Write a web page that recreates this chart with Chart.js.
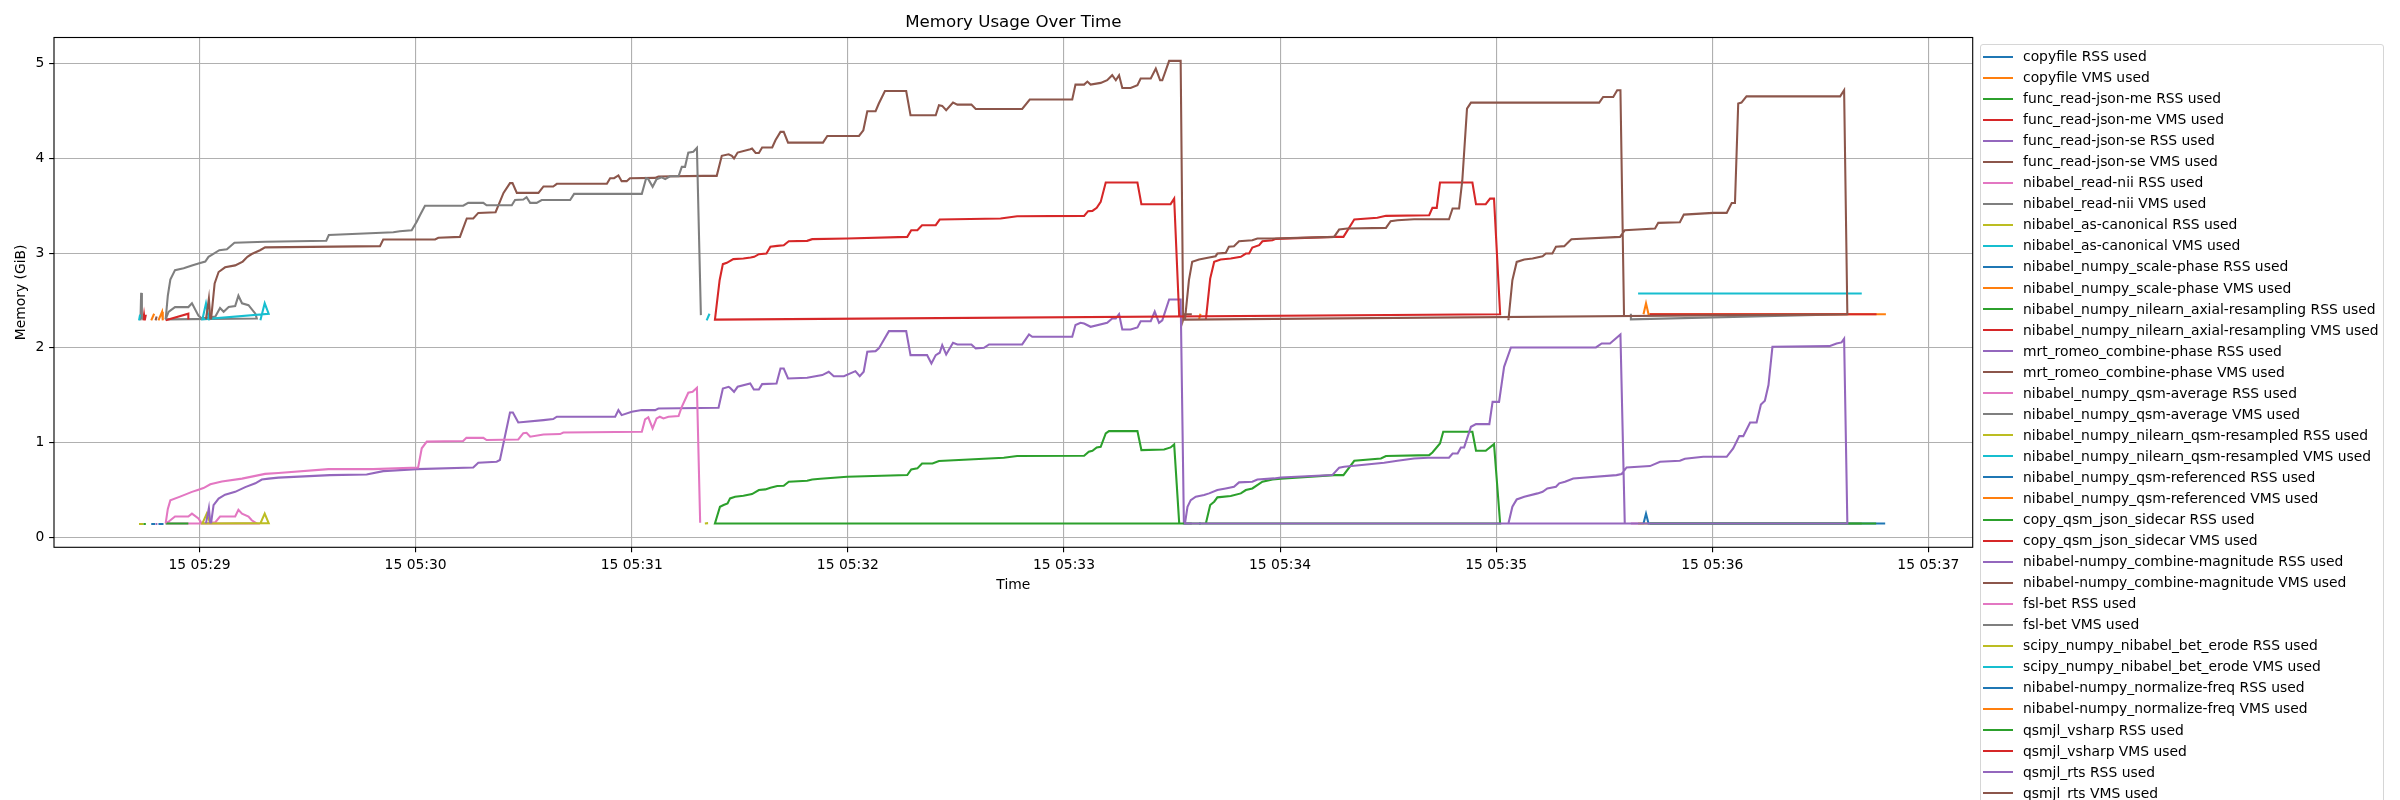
<!DOCTYPE html>
<html>
<head>
<meta charset="utf-8">
<title>Memory Usage Over Time</title>
<script src="https://cdn.jsdelivr.net/npm/chart.js@4.4.1/dist/chart.umd.min.js"></script>
<style>
  html, body { margin: 0; padding: 0; background: #fff; width: 2400px; height: 800px; overflow: hidden; }
  #wrap { position: relative; width: 2400px; height: 800px; }
  #memChart { position: absolute; left: 0; top: 0; }
  #legend {
    position: absolute; left: 1980px; top: 44px; width: 404px; height: 780px;
    border: 1.1px solid #d6d6d6; border-radius: 3px; background: rgba(255,255,255,0.8);
    font-family: 'DejaVu Sans', sans-serif; font-size: 13.89px; color: #000;
    padding-top: 1px; box-sizing: border-box;
  }
  .row { position: relative; height: 21.06px; line-height: 21.06px; white-space: nowrap; }
  .row span.swatch { position: absolute; left: 2px; top: 9.5px; width: 30px; height: 2px; }
  .row span.txt { position: absolute; left: 42px; top: 0; }
</style>
</head>
<body>
<div id="wrap">
  <canvas id="memChart" width="2400" height="800"></canvas>
  <div id="legend"></div>
</div>
<script>
// time = seconds after 05:28:00, memory in GiB
const xTickSeconds = [60, 120, 180, 240, 300, 360, 420, 480, 540];
const xTickLabels = ['15 05:29', '15 05:30', '15 05:31', '15 05:32', '15 05:33', '15 05:34', '15 05:35', '15 05:36', '15 05:37'];
const yTickValues = [0, 1, 2, 3, 4, 5];

const seriesLabels = [
  'copyfile RSS used', 'copyfile VMS used',
  'func_read-json-me RSS used', 'func_read-json-me VMS used',
  'func_read-json-se RSS used', 'func_read-json-se VMS used',
  'nibabel_read-nii RSS used', 'nibabel_read-nii VMS used',
  'nibabel_as-canonical RSS used', 'nibabel_as-canonical VMS used',
  'nibabel_numpy_scale-phase RSS used', 'nibabel_numpy_scale-phase VMS used',
  'nibabel_numpy_nilearn_axial-resampling RSS used', 'nibabel_numpy_nilearn_axial-resampling VMS used',
  'mrt_romeo_combine-phase RSS used', 'mrt_romeo_combine-phase VMS used',
  'nibabel_numpy_qsm-average RSS used', 'nibabel_numpy_qsm-average VMS used',
  'nibabel_numpy_nilearn_qsm-resampled RSS used', 'nibabel_numpy_nilearn_qsm-resampled VMS used',
  'nibabel_numpy_qsm-referenced RSS used', 'nibabel_numpy_qsm-referenced VMS used',
  'copy_qsm_json_sidecar RSS used', 'copy_qsm_json_sidecar VMS used',
  'nibabel-numpy_combine-magnitude RSS used', 'nibabel-numpy_combine-magnitude VMS used',
  'fsl-bet RSS used', 'fsl-bet VMS used',
  'scipy_numpy_nibabel_bet_erode RSS used', 'scipy_numpy_nibabel_bet_erode VMS used',
  'nibabel-numpy_normalize-freq RSS used', 'nibabel-numpy_normalize-freq VMS used',
  'qsmjl_vsharp RSS used', 'qsmjl_vsharp VMS used',
  'qsmjl_rts RSS used', 'qsmjl_rts VMS used'
];

// [time, GiB] pairs, null = no sample
const copyfileRss = [[46.6, 0.14], [47.7, 0.14]];
const copyfileVms = [[46.6, 2.29], [47.4, 2.36]];
const readJsonMeRss = [[44.4, 0.14], [45.1, 0.14]];
const readJsonMeVms = [[44.4, 2.29], [44.6, 2.35], [44.8, 2.29], [45.1, 2.35]];
const readJsonSeRss = [[47.8, 0.14], [48.3, 0.14]];
const readJsonSeVms = [[47.8, 2.29], [48.1, 2.33]];
const readNiiRss = [[43.6, 0.14], [44.0, 0.14], [47, null], [50.6, 0.147], [51.4, 0.165], [53.2, 0.22], [56.9, 0.22], [57.9, 0.25],
  [59.7, 0.20], [60.6, 0.147], [64.4, 0.16], [65.7, 0.22], [67.1, 0.22], [69.9, 0.22], [70.8, 0.29], [71.8, 0.25], [73.6, 0.22],
  [74.5, 0.18], [75.9, 0.147], [50.6, 0.147]];
const readNiiVms = [[43.6, 2.29], [43.8, 2.58], [44.0, 2.30], [47, null], [50.6, 2.30], [51.4, 2.38], [53.2, 2.43], [56.9, 2.43],
  [57.9, 2.47], [59.7, 2.34], [60.6, 2.31], [64.4, 2.33], [65.7, 2.42], [66.7, 2.38], [68.1, 2.43], [69.9, 2.44], [70.8, 2.55],
  [71.8, 2.47], [73.6, 2.45], [75.5, 2.36], [75.9, 2.31], [50.6, 2.30]];
const asCanonicalRss = [[43.2, 0.14], [44.4, 0.14], [52, null], [76.9, 0.147], [78.1, 0.25], [79.2, 0.15], [60.8, 0.147], [62.0, 0.25], [63.0, 0.147]];
const asCanonicalVms = [[43.2, 2.29], [43.5, 2.35], [52, null], [76.9, 2.29], [78.1, 2.47], [79.2, 2.36], [60.8, 2.30], [61.8, 2.47], [62.7, 2.29]];
const scalePhaseRss = [[48.6, 0.14], [50.0, 0.14]];
const scalePhaseVms = [[48.6, 2.29], [49.6, 2.38], [49.8, 2.29]];
const axialRss = [[50.6, 0.147], [56.9, 0.147]];
const axialVms = [[50.6, 2.29], [56.9, 2.36], [56.9, 2.30]];

const romeoRss = [[63.2, 0.147], [63.9, 0.34], [65.3, 0.41], [67.1, 0.45], [69.9, 0.48], [72.7, 0.53], [75.5, 0.57], [77.3, 0.61],
  [79.2, 0.62], [81.9, 0.63], [96.2, 0.657], [106.4, 0.664], [111.0, 0.699], [120.3, 0.72], [136.0, 0.738], [137.4, 0.787],
  [142.5, 0.798], [143.4, 0.816], [146.2, 1.318], [147.0, 1.318], [148.5, 1.212], [155.5, 1.237], [158.2, 1.248], [159.2, 1.273],
  [175.4, 1.273], [176.3, 1.343], [177.2, 1.290], [180.0, 1.325], [182.8, 1.343], [186.5, 1.343], [187.4, 1.36], [204.1, 1.367],
  [205.3, 1.571], [206.9, 1.589], [207.3, 1.578], [208.4, 1.536], [209.4, 1.589], [212.9, 1.623], [213.9, 1.561], [215.3, 1.561],
  [216.2, 1.617], [220.2, 1.624], [221.3, 1.782], [222.2, 1.782], [223.4, 1.677], [228.7, 1.684], [232.9, 1.712], [234.7, 1.747],
  [236.1, 1.701], [238.9, 1.701], [242.1, 1.754], [243.3, 1.701], [244.4, 1.747], [245.4, 1.958], [247.7, 1.965], [248.6, 1.994],
  [251.4, 2.176], [256.2, 2.176], [257.4, 1.923], [262.0, 1.923], [263.2, 1.835], [264.4, 1.923], [265.5, 1.948], [266.2, 2.028],
  [267.3, 1.930], [269.2, 2.053], [270.4, 2.036], [274.3, 2.036], [275.5, 1.994], [277.8, 2.000], [279.2, 2.036], [288.4, 2.036],
  [290.3, 2.141], [291.2, 2.117], [302.3, 2.117], [303.2, 2.240], [304.6, 2.264], [305.6, 2.257], [307.4, 2.222], [312.0, 2.264],
  [313.4, 2.310], [314.4, 2.310], [315.3, 2.355], [316.2, 2.193], [318.5, 2.193], [320.4, 2.215], [321.3, 2.281], [324.1, 2.281],
  [325.2, 2.383], [326.4, 2.264], [327.3, 2.29], [329.2, 2.51], [332.4, 2.51], [333.3, 0.147], [335.5, 0.147]];
const romeoVms = [[63.2, 2.30], [63.6, 2.45], [64.2, 2.68], [65.3, 2.80], [67.1, 2.85], [69.9, 2.87], [72.0, 2.91], [73.3, 2.96],
  [74.5, 2.99], [76.8, 3.03], [78.2, 3.06], [110.1, 3.073], [111.0, 3.143], [125.4, 3.143], [126.3, 3.161], [132.3, 3.171],
  [134.2, 3.365], [136.0, 3.365], [137.4, 3.424], [142.2, 3.431], [144.4, 3.635], [146.2, 3.738], [146.9, 3.738], [148.1, 3.635],
  [154.1, 3.635], [155.5, 3.703], [158.2, 3.703], [159.2, 3.731], [173.1, 3.731], [174.0, 3.790], [175.1, 3.790], [176.3, 3.819],
  [177.2, 3.759], [178.6, 3.759], [179.5, 3.790], [186.5, 3.794], [187.4, 3.808], [199.9, 3.815], [203.6, 3.815], [205.0, 4.026],
  [206.9, 4.043], [207.8, 4.026], [208.4, 3.998], [209.4, 4.061], [212.9, 4.096], [213.4, 4.103], [214.4, 4.057], [215.3, 4.057],
  [216.2, 4.114], [219.0, 4.114], [219.9, 4.191], [221.3, 4.279], [222.2, 4.279], [223.4, 4.166], [233.1, 4.166], [234.3, 4.236],
  [243.1, 4.236], [244.3, 4.296], [245.4, 4.497], [247.7, 4.497], [248.6, 4.578], [250.3, 4.711], [256.2, 4.711], [257.4, 4.454],
  [264.4, 4.454], [265.3, 4.560], [266.2, 4.553], [267.3, 4.507], [269.2, 4.588], [270.4, 4.567], [274.3, 4.567], [275.5, 4.521],
  [288.4, 4.521], [290.5, 4.620], [302.3, 4.620], [303.2, 4.778], [305.6, 4.778], [306.5, 4.810], [307.4, 4.778], [310.2, 4.796],
  [312.0, 4.824], [313.4, 4.877], [314.4, 4.824], [315.3, 4.877], [316.2, 4.743], [318.5, 4.743], [320.4, 4.771], [321.3, 4.842],
  [324.1, 4.842], [325.5, 4.947], [326.7, 4.824], [327.3, 4.824], [329.2, 5.028], [332.4, 5.028], [333.1, 2.30], [333.5, 2.355],
  [335.5, 2.355]];

const qsmAverageRss = [[457.4, 0.147], [461.0, 0.147]];
const qsmAverageVms = [[457.4, 2.36], [457.4, 2.30], [517.5, 2.355]];
const qsmResampledRss = [[459.4, 0.147], [521.5, 0.147]];
const qsmResampledVms = [[459.4, 2.573], [521.5, 2.573]];
const qsmReferencedRss = [[460.9, 0.147], [461.6, 0.25], [462.3, 0.147], [528.0, 0.147]];
const qsmReferencedVms = [[460.9, 2.355], [461.6, 2.47], [462.3, 2.355], [528.2, 2.355]];
const sidecarRss = [[462.7, 0.147], [525.5, 0.147]];
const sidecarVms = [[462.7, 2.355], [525.6, 2.355]];
const combineMagRss = [[61.8, 0.147], [62.6, 0.31], [63.0, 0.147]];
const combineMagVms = [[61.8, 2.30], [62.6, 2.52], [63.0, 2.30]];

const fslBetRss = [[50.6, 0.147], [51.2, 0.30], [51.9, 0.39], [54.6, 0.43], [57.9, 0.48], [59.5, 0.50], [61.1, 0.52], [63.0, 0.56],
  [66.2, 0.59], [71.8, 0.62], [78.2, 0.67], [81.9, 0.68], [95.8, 0.72], [108.2, 0.72], [120.7, 0.738], [121.7, 0.94], [123.1, 1.01],
  [133.2, 1.016], [134.1, 1.05], [138.8, 1.05], [139.7, 1.027], [148.5, 1.033], [149.9, 1.10], [150.8, 1.104], [151.8, 1.062],
  [155.5, 1.086], [160.1, 1.09], [161.0, 1.107], [182.8, 1.114], [183.7, 1.245], [184.6, 1.266], [185.8, 1.15], [186.9, 1.255],
  [187.8, 1.273], [188.8, 1.255], [190.2, 1.273], [193.0, 1.28], [193.9, 1.378], [195.7, 1.526], [196.9, 1.536], [198.1, 1.578],
  [199.0, 0.154]];
const fslBetVms = [[50.6, 2.30], [51.2, 2.55], [51.9, 2.72], [53.2, 2.82], [55.6, 2.84], [57.9, 2.87], [59.7, 2.89], [61.6, 2.91],
  [62.5, 2.96], [63.4, 2.98], [65.5, 3.03], [67.6, 3.04], [69.7, 3.11], [78.2, 3.12], [95.2, 3.13], [95.9, 3.19], [107.3, 3.21],
  [113.8, 3.22], [115.6, 3.23], [118.9, 3.24], [120.3, 3.33], [121.2, 3.40], [122.6, 3.50], [133.2, 3.50], [134.6, 3.53],
  [138.8, 3.53], [139.7, 3.505], [146.7, 3.505], [147.6, 3.56], [149.9, 3.565], [150.8, 3.59], [151.8, 3.53], [153.6, 3.53],
  [155.0, 3.56], [162.9, 3.56], [164.0, 3.625], [182.8, 3.625], [184.0, 3.79], [184.6, 3.78], [185.8, 3.70], [186.9, 3.78],
  [188.3, 3.80], [189.3, 3.78], [190.6, 3.81], [193.0, 3.81], [193.9, 3.91], [194.8, 3.91], [195.7, 4.06], [197.1, 4.07],
  [198.1, 4.11], [199.2, 2.345]];

const betErodeRss = [[200.3, 0.147], [201.2, 0.15]];
const betErodeVms = [[200.8, 2.29], [201.6, 2.36]];
const normalizeRss = [[337.5, 0.147], [338.0, 0.147]];
const normalizeVms = [[337.5, 2.30], [337.9, 2.36]];

const vsharpRun1Rss = [[203.1, 0.147], [204.5, 0.323], [205.5, 0.341], [206.6, 0.358], [207.3, 0.411], [208.7, 0.429], [211.0, 0.439],
  [213.4, 0.457], [215.3, 0.499], [217.1, 0.506], [218.5, 0.524], [220.4, 0.541], [222.2, 0.545], [223.6, 0.587], [228.7, 0.597],
  [230.1, 0.611], [232.4, 0.618], [239.8, 0.640], [256.5, 0.657], [257.6, 0.717], [259.3, 0.728], [260.6, 0.780], [263.5, 0.780],
  [265.3, 0.805], [283.3, 0.840], [287.0, 0.858], [305.6, 0.861], [306.9, 0.903], [307.9, 0.914], [309.1, 0.949], [310.2, 0.956],
  [311.6, 1.097], [312.5, 1.121], [320.4, 1.121], [321.5, 0.921], [327.8, 0.928], [329.6, 0.949], [330.6, 0.981], [332.0, 0.147]];
const vsharpRun1Vms = [[203.1, 2.298], [204.4, 2.714], [205.3, 2.883], [206.4, 2.897], [208.2, 2.936], [211.0, 2.943], [213.0, 2.953],
  [214.0, 2.960], [215.3, 2.988], [217.4, 2.995], [218.5, 3.066], [220.4, 3.076], [222.2, 3.083], [223.6, 3.125], [228.7, 3.129],
  [230.1, 3.147], [239.8, 3.154], [256.5, 3.171], [257.6, 3.241], [259.3, 3.241], [260.6, 3.294], [264.4, 3.294], [265.5, 3.354],
  [282.4, 3.365], [287.0, 3.389], [305.6, 3.393], [306.7, 3.442], [307.9, 3.445], [309.1, 3.477], [310.2, 3.540], [311.6, 3.744],
  [320.4, 3.744], [321.5, 3.516], [329.6, 3.516], [330.6, 3.575], [332.0, 2.334]];
const vsharpRun2Rss = [[339.4, 0.147], [340.6, 0.341], [341.7, 0.376], [342.6, 0.422], [346.3, 0.436], [349.1, 0.464], [350.5, 0.499],
  [352.3, 0.516], [355.1, 0.587], [357.9, 0.611], [360.2, 0.618], [375.0, 0.657], [377.6, 0.657], [380.6, 0.808], [388.0, 0.833],
  [389.4, 0.858], [401.4, 0.868], [402.3, 0.896], [404.4, 0.991], [405.3, 1.114], [413.4, 1.114], [414.4, 0.914], [417.1, 0.914],
  [419.4, 0.984], [421.1, 0.147]];
const vsharpRun2Vms = [[339.4, 2.298], [340.6, 2.731], [341.7, 2.907], [343.5, 2.932], [346.3, 2.943], [349.1, 2.960], [350.5, 2.995],
  [351.4, 2.995], [352.3, 3.059], [354.2, 3.083], [355.1, 3.125], [357.9, 3.136], [358.8, 3.150], [375.0, 3.171], [377.6, 3.171],
  [380.6, 3.354], [387.0, 3.372], [389.4, 3.393], [401.4, 3.400], [402.3, 3.477], [403.5, 3.477], [404.4, 3.744], [413.4, 3.744],
  [414.4, 3.516], [417.1, 3.516], [418.3, 3.575], [419.4, 3.575], [421.1, 2.355]];

const rtsRun2Rss = [[333.6, 0.147], [334.3, 0.323], [335.2, 0.393], [336.6, 0.429], [338.9, 0.446], [340.3, 0.464], [342.6, 0.499],
  [344.9, 0.516], [347.2, 0.534], [348.6, 0.580], [352.3, 0.587], [353.7, 0.611], [358.3, 0.622], [360.2, 0.632], [374.5, 0.657],
  [376.4, 0.734], [377.8, 0.745], [388.9, 0.787], [392.6, 0.808], [397.2, 0.833], [401.1, 0.840], [406.9, 0.840], [407.9, 0.885],
  [409.3, 0.885], [410.2, 0.949], [411.1, 0.949], [413.0, 1.167], [414.4, 1.195], [418.1, 1.195], [419.0, 1.430], [420.8, 1.430],
  [422.2, 1.800], [424.1, 2.004], [447.7, 2.004], [449.3, 2.046], [451.6, 2.046], [454.5, 2.141], [455.7, 0.147]];
const rtsRun2Vms = [[333.6, 2.298], [334.7, 2.714], [335.6, 2.907], [337.5, 2.932], [338.9, 2.943], [340.3, 2.953], [342.1, 2.967],
  [342.6, 2.995], [344.9, 3.002], [345.8, 3.066], [347.2, 3.073], [348.6, 3.125], [352.3, 3.136], [353.7, 3.154], [357.9, 3.154],
  [375.0, 3.171], [376.4, 3.248], [378.7, 3.259], [389.4, 3.266], [390.7, 3.337], [392.6, 3.347], [397.2, 3.357], [406.9, 3.357],
  [407.9, 3.470], [409.7, 3.470], [410.6, 3.769], [411.9, 4.525], [413.0, 4.588], [448.6, 4.588], [449.7, 4.648], [452.5, 4.648],
  [453.6, 4.719], [454.5, 4.719], [455.5, 2.33]];
const rtsRun3Rss = [[423.4, 0.147], [424.5, 0.323], [425.7, 0.400], [427.8, 0.429], [431.5, 0.464], [432.9, 0.48], [434.2, 0.516],
  [436.6, 0.534], [437.5, 0.570], [439.1, 0.587], [441.4, 0.622], [453.4, 0.657], [454.8, 0.668], [456.2, 0.738], [462.7, 0.752],
  [465.5, 0.798], [471.0, 0.808], [472.4, 0.829], [477.5, 0.850], [484.0, 0.850], [485.8, 0.938], [487.5, 1.068], [488.6, 1.068],
  [490.5, 1.212], [492.3, 1.212], [493.5, 1.402], [494.6, 1.441], [495.6, 1.607], [496.7, 2.011], [512.5, 2.018], [514.5, 2.046],
  [515.9, 2.057], [516.6, 2.096], [517.5, 0.147]];
const rtsRun3Vms = [[423.4, 2.291], [424.5, 2.714], [425.7, 2.907], [427.8, 2.932], [430.1, 2.943], [432.9, 2.967], [433.8, 2.995],
  [435.6, 2.995], [436.6, 3.066], [438.9, 3.073], [440.3, 3.125], [440.9, 3.147], [454.4, 3.171], [455.7, 3.241], [464.1, 3.259],
  [465.0, 3.319], [471.0, 3.326], [472.1, 3.406], [480.3, 3.424], [484.0, 3.424], [485.4, 3.529], [486.3, 3.529], [487.2, 4.578],
  [488.1, 4.588], [489.5, 4.654], [515.5, 4.654], [516.6, 4.719], [517.5, 2.355]];

// samples of repeated runs are listed run after run, as in the log
const seriesData = [
  copyfileRss, copyfileVms, readJsonMeRss, readJsonMeVms, readJsonSeRss, readJsonSeVms,
  readNiiRss, readNiiVms, asCanonicalRss, asCanonicalVms, scalePhaseRss, scalePhaseVms,
  axialRss, axialVms, romeoRss, romeoVms, qsmAverageRss, qsmAverageVms,
  qsmResampledRss, qsmResampledVms, qsmReferencedRss, qsmReferencedVms, sidecarRss, sidecarVms,
  combineMagRss, combineMagVms, fslBetRss, fslBetVms, betErodeRss, betErodeVms,
  normalizeRss, normalizeVms,
  vsharpRun2Rss.concat(vsharpRun1Rss), vsharpRun2Vms.concat(vsharpRun1Vms),
  rtsRun3Rss.concat(rtsRun2Rss), rtsRun3Vms.concat(rtsRun2Vms)
];

const tab10 = ['#1f77b4', '#ff7f0e', '#2ca02c', '#d62728', '#9467bd', '#8c564b', '#e377c2', '#7f7f7f', '#bcbd22', '#17becf'];

Chart.defaults.font.family = "'DejaVu Sans', sans-serif";
Chart.defaults.color = '#000';

// black box around the plot, like the matplotlib spines
const axesFrame = {
  id: 'axesFrame',
  afterDraw(chart) {
    const { ctx, chartArea: a } = chart;
    ctx.save();
    ctx.strokeStyle = '#000';
    ctx.lineWidth = 1.11;
    ctx.strokeRect(a.left, a.top, a.right - a.left, a.bottom - a.top);
    ctx.restore();
  }
};

const datasets = seriesData.map((pts, i) => ({
  label: seriesLabels[i],
  data: pts.map(([x, y]) => ({ x: x, y: y })),
  borderColor: tab10[i % 10],
  backgroundColor: tab10[i % 10],
  borderWidth: 2.08,
  pointRadius: 0,
  pointHoverRadius: 0,
  tension: 0,
  fill: false,
  spanGaps: false,
  order: seriesData.length - i   // later series drawn on top, as in matplotlib
}));

new Chart(document.getElementById('memChart'), {
  type: 'line',
  data: { datasets: datasets },
  options: {
    responsive: false,
    animation: false,
    events: [],
    layout: { padding: { left: 0, top: 0, right: 427.3, bottom: 200 } },
    plugins: {
      legend: { display: false },
      tooltip: { enabled: false },
      title: {
        display: true,
        text: 'Memory Usage Over Time',
        fullSize: false,
        color: '#000',
        font: { size: 16.67, weight: 'normal' },
        padding: { top: 13, bottom: 4.5 }
      }
    },
    scales: {
      x: {
        type: 'linear',
        min: 19.6,
        max: 552.3,
        bounds: 'data',
        afterBuildTicks: (scale) => { scale.ticks = xTickSeconds.map(v => ({ value: v })); },
        afterFit: (scale) => { scale.height = 52.7; },
        ticks: {
          autoSkip: false, maxRotation: 0, padding: 4.86,
          font: { size: 13.89 }, color: '#000',
          callback: (value, index) => xTickLabels[index]
        },
        grid: { color: '#b0b0b0', lineWidth: 1.11, tickColor: '#000', tickWidth: 1.11, tickLength: 4.86 },
        border: { display: false },
        title: { display: true, text: 'Time', font: { size: 13.89 }, color: '#000', padding: { top: 0, bottom: 6.7 } }
      },
      y: {
        type: 'linear',
        min: -0.105,
        max: 5.275,
        bounds: 'data',
        afterBuildTicks: (scale) => { scale.ticks = yTickValues.map(v => ({ value: v })); },
        afterFit: (scale) => { scale.width = 54; },
        ticks: {
          padding: 4.86, font: { size: 13.89 }, color: '#000',
          callback: (value) => String(value)
        },
        grid: { color: '#b0b0b0', lineWidth: 1.11, tickColor: '#000', tickWidth: 1.11, tickLength: 4.86 },
        border: { display: false },
        title: { display: true, text: 'Memory (GiB)', font: { size: 13.89 }, color: '#000', padding: { top: 12.9, bottom: 0 } }
      }
    }
  },
  plugins: [axesFrame]
});

// legend outside the axes, like bbox_to_anchor=(1, 1)
const legendBox = document.getElementById('legend');
seriesLabels.forEach((name, i) => {
  const row = document.createElement('div');
  row.className = 'row';
  const sw = document.createElement('span');
  sw.className = 'swatch';
  sw.style.background = tab10[i % 10];
  const txt = document.createElement('span');
  txt.className = 'txt';
  txt.textContent = name;
  row.appendChild(sw);
  row.appendChild(txt);
  legendBox.appendChild(row);
});
</script>
</body>
</html>
